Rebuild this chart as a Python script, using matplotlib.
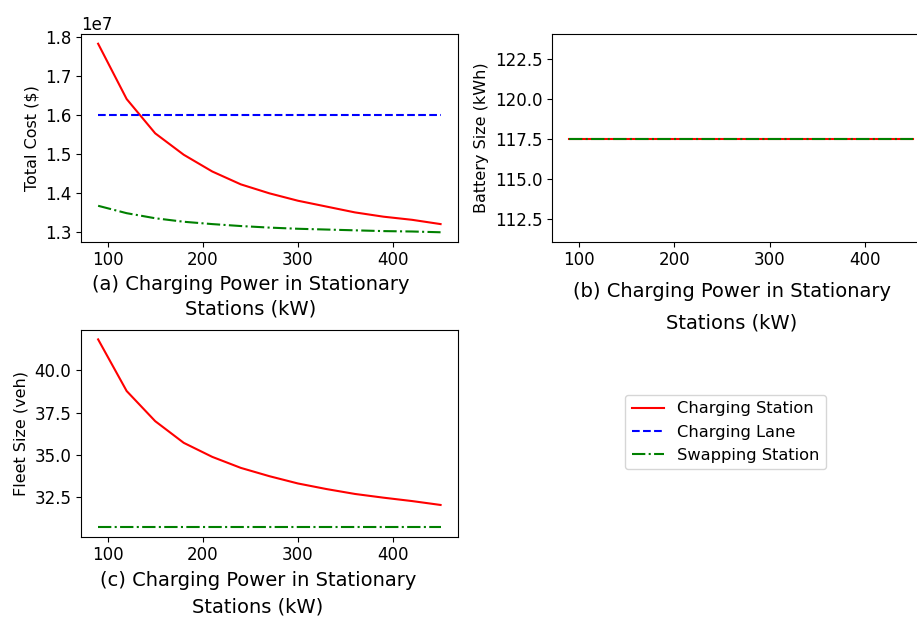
import matplotlib
matplotlib.use("Agg")
import matplotlib.pyplot as plt

power = [90, 120, 150, 180, 210, 240, 270, 300, 330, 360, 390, 420, 450]
cost_station = [1.784e7, 1.642e7, 1.554e7, 1.499e7, 1.456e7, 1.423e7, 1.400e7,
                1.381e7, 1.366e7, 1.351e7, 1.340e7, 1.332e7, 1.321e7]
cost_lane = [1.60e7] * 13
cost_swap = [1.368e7, 1.349e7, 1.336e7, 1.327e7, 1.321e7, 1.316e7, 1.312e7,
             1.309e7, 1.307e7, 1.305e7, 1.303e7, 1.302e7, 1.300e7]
battery_station = [117.5] * 13
battery_swap = [117.5] * 13
fleet_station = [41.83, 38.78, 37.0, 35.72, 34.89, 34.24, 33.75, 33.32,
                 32.99, 32.70, 32.48, 32.28, 32.05]
fleet_swap = [30.73] * 13

W, H = 917, 617
fig = plt.figure(figsize=(W / 100, H / 100), dpi=100)

def px_axes(left, top, right, bottom):
    return fig.add_axes([left / W, 1 - bottom / H, (right - left) / W, (bottom - top) / H])

TICK = 12
YL = 11.5
XL = 14

axa = px_axes(81, 34.3, 457.7, 241.7)
l1, = axa.plot(power, cost_station, color="red", linestyle="-", label="Charging Station")
l2, = axa.plot(power, cost_lane, color="blue", linestyle="--", label="Charging Lane")
l3, = axa.plot(power, cost_swap, color="green", linestyle="-.", label="Swapping Station")
axa.set_ylabel("Total Cost ($)", fontsize=YL)
axa.set_xlabel("(a) Charging Power in Stationary\nStations (kW)", fontsize=XL,
               labelpad=4, linespacing=1.4)
axa.xaxis.label.set_x(0.45)
axa.tick_params(labelsize=TICK)
axa.yaxis.get_offset_text().set_fontsize(TICK)

axb = px_axes(552.3, 34.3, 929.8, 241.7)
axb.plot(power, battery_station, color="red", linestyle="-")
axb.plot(power, battery_swap, color="green", linestyle="-.")
axb.set_ylim(111.08, 124.06)
axb.set_ylabel("Battery Size (kWh)", fontsize=YL)
axb.set_xlabel("(b) Charging Power in Stationary\nStations (kW)", fontsize=XL,
               linespacing=1.85, labelpad=9)
axb.xaxis.label.set_x(0.475)
axb.tick_params(labelsize=TICK)

axc = px_axes(81, 330, 457.7, 536.7)
axc.plot(power, fleet_station, color="red", linestyle="-")
axc.plot(power, fleet_swap, color="green", linestyle="-.")
axc.set_ylabel("Fleet Size (veh)", fontsize=YL)
axc.set_xlabel("(c) Charging Power in Stationary\nStations (kW)", fontsize=XL,
               labelpad=5, linespacing=1.5)
axc.xaxis.label.set_x(0.47)
axc.tick_params(labelsize=TICK)

fig.legend(handles=[l1, l2, l3], loc="upper left",
           bbox_to_anchor=(625 / W, 1 - 395 / H), borderaxespad=0, fontsize=11.7)

fig.savefig("out.png", dpi=100)
